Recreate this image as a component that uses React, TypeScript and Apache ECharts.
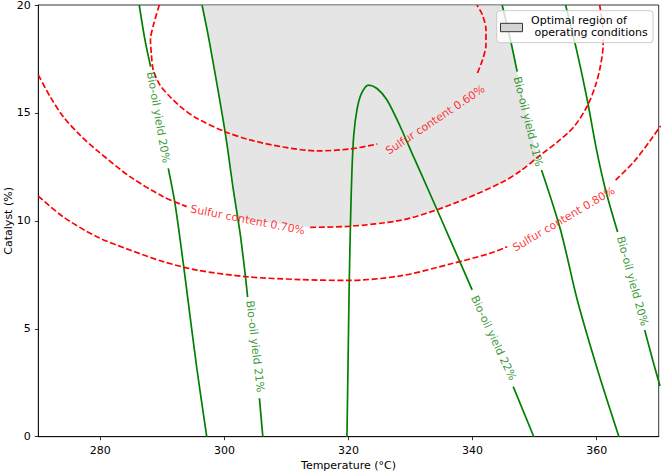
import React, { useEffect, useRef } from "react";
import * as echarts from "echarts";

type Pt = [number, number] | null;

// Axis ticks
const temperatureTicks = [280, 300, 320, 340, 360];

// Sulfur content contours [temperature °C, catalyst %]; null marks the gap left for the label
const sulfur060: Pt[] = [
  [289.5, 20.0], [288.56, 19.07], [288.08, 18.38], [288.24, 17.68], [288.53, 16.99],
  [289.61, 16.29], [291.23, 15.75], [293.16, 15.23], [295.54, 14.75], [300.1, 14.13],
  [304.14, 13.75], [309.47, 13.42], [314.96, 13.24], [320.28, 13.33], [324.64, 13.56],
  null,
  [340.78, 16.85], [341.59, 17.45], [342.16, 18.15], [342.16, 18.84], [341.59, 19.54], [340.7, 20.0],
];
const sulfur070: Pt[] = [
  [270.0, 16.76], [271.86, 15.78], [274.0, 14.83], [276.7, 13.98], [279.39, 13.28],
  [284.77, 12.05], [290.15, 11.12], [293.92, 10.66],
  null,
  [313.83, 9.7], [320.28, 9.75], [328.35, 10.02], [333.73, 10.46], [339.17, 11.06],
  [344.5, 11.75], [347.72, 12.31], [350.95, 13.05], [353.65, 13.65], [356.33, 14.36],
  [358.49, 15.32], [359.83, 16.29], [360.64, 17.22], [361.04, 18.15], [360.96, 19.07], [360.48, 20.0],
];
const sulfur080: Pt[] = [
  [270.0, 11.15], [274.0, 10.19], [279.39, 9.27], [284.77, 8.65], [290.15, 8.11],
  [295.54, 7.72], [303.61, 7.41], [312.21, 7.28], [319.8, 7.24], [328.35, 7.45],
  [336.42, 8.0], [342.88, 8.5], [345.58, 8.8],
  null,
  [363.06, 11.89], [366.01, 12.74], [368.71, 13.75], [370.32, 14.4],
];

// Bio-oil yield contours
const yield20Left: Pt[] = [
  [286.27, 20], [287.19, 18.38], [288.11, 17.14],
  null,
  [290.95, 12.43], [292.03, 10.81], [293.37, 8.03], [294.13, 6.33], [295.59, 3.09], [297.15, 0],
];
const yield21Left: Pt[] = [
  [296.39, 20], [297.52, 18.38], [300.1, 14.13], [301.44, 11.43], [302.53, 9.42],
  [303.33, 7.57], [303.74, 6.47],
  null,
  [305.64, 1.78], [306.19, 0],
];
const yield22: Pt[] = [
  [319.75, 0], [319.96, 4.02], [320.12, 7.12], [320.33, 10.04], [320.56, 12.36],
  [320.85, 13.98], [321.36, 15.14], [322.06, 15.88], [323.24, 16.29], [324.59, 16.13],
  [326.21, 15.6], [328.35, 14.36], [330.5, 12.96], [332.87, 11.43], [336.42, 9.11], [339.93, 6.8],
  null,
  [346.55, 2.32], [349.87, 0],
];
const yield21Right: Pt[] = [
  [344.77, 20], [346.11, 18.38], [347.19, 16.91],
  null,
  [351.11, 12.36], [354.18, 9.58], [356.88, 6.33], [360.15, 3.09], [363.59, 0],
];
const yield20Right: Pt[] = [
  [354.99, 20], [356.76, 17.92], [358.49, 15.6], [359.99, 13.28], [361.44, 11.43], [363.38, 9.48],
  null,
  [367.74, 4.94], [369.03, 3.55], [370.21, 2.35],
];

// Inline contour labels: text and anchor [temperature, catalyst]
const sulfurLabels: { text: string; at: [number, number] }[] = [
  { text: "Sulfur content 0.60%", at: [334.0, 14.67] },
  { text: "Sulfur content 0.70%", at: [303.74, 10.04] },
  { text: "Sulfur content 0.80%", at: [354.71, 10.08] },
];
const yieldLabels: { text: string; at: [number, number] }[] = [
  { text: "Bio-oil yield 20%", at: [289.34, 14.79] },
  { text: "Bio-oil yield 21%", at: [304.95, 4.18] },
  { text: "Bio-oil yield 22%", at: [343.37, 4.57] },
  { text: "Bio-oil yield 21%", at: [348.93, 14.6] },
  { text: "Bio-oil yield 20%", at: [365.75, 7.21] },
];

const legendText = "Optimal region of\n\u00a0operating conditions";

// ---- styles ----
const FONT = "DejaVu Sans";
const GREEN = "#008000";
const RED = "#ff0000";
const sulfurAngles = [33.5, -11, 30.5];
const yieldAngles = [-80, -83.4, -65, -76, -74.6];

function segments(line: Pt[]): [number, number][][] {
  const out: [number, number][][] = [[]];
  for (const p of line) {
    if (p === null) out.push([]);
    else out[out.length - 1].push(p);
  }
  return out.filter((s) => s.length > 1);
}

// whole contour path, with the label anchor standing in for the gap
function fullPath(line: Pt[], anchor: [number, number]): [number, number][] {
  return line.map((p) => (p === null ? anchor : p)) as [number, number][];
}

function crossing(a: [number, number][], b: [number, number][]) {
  for (let i = 0; i < a.length - 1; i++) {
    for (let j = 0; j < b.length - 1; j++) {
      const [x1, y1] = a[i];
      const [x2, y2] = a[i + 1];
      const [x3, y3] = b[j];
      const [x4, y4] = b[j + 1];
      const d = (x2 - x1) * (y4 - y3) - (y2 - y1) * (x4 - x3);
      if (!d) continue;
      const t = ((x3 - x1) * (y4 - y3) - (y3 - y1) * (x4 - x3)) / d;
      const u = ((x3 - x1) * (y2 - y1) - (y3 - y1) * (x2 - x1)) / d;
      if (t >= 0 && t <= 1 && u >= 0 && u <= 1) {
        return { i, j, p: [x1 + t * (x2 - x1), y1 + t * (y2 - y1)] as [number, number] };
      }
    }
  }
  return null;
}

// Optimal region: right of the left 21% yield line, above the 0.70% sulfur line,
// left of the right 21% yield line
function optimalRegion(): [number, number][] {
  const L = fullPath(yield21Left, yieldLabels[1].at);
  const B = fullPath(sulfur070, sulfurLabels[1].at);
  const R = fullPath(yield21Right, yieldLabels[3].at);
  const k1 = crossing(L, B);
  const k2 = crossing(R, B);
  if (!k1 || !k2) return [];
  return [
    ...L.slice(0, k1.i + 1),
    k1.p,
    ...B.slice(k1.j + 1, k2.j + 1),
    k2.p,
    ...R.slice(0, k2.i + 1).reverse(),
  ];
}

function lineSeries(line: Pt[], color: string, dashed: boolean) {
  return segments(line).map((seg) => ({
    type: "line",
    data: seg,
    symbol: "none",
    showSymbol: false,
    smooth: 0.3,
    silent: true,
    clip: true,
    z: dashed ? 4 : 3,
    lineStyle: { color, width: 1.7, type: dashed ? [6, 2.6] : "solid", cap: "butt" },
  }));
}

function labelSeries(labels: { text: string; at: [number, number] }[], angles: number[], color: string) {
  return {
    type: "scatter",
    silent: true,
    z: 6,
    symbol: "circle",
    symbolSize: 1,
    itemStyle: { color: "rgba(0,0,0,0)" },
    data: labels.map((l, k) => ({
      value: l.at,
      label: {
        show: true,
        position: "inside",
        formatter: l.text,
        rotate: angles[k],
        color,
        fontSize: 11,
        fontFamily: FONT,
      },
    })),
  };
}

export default function App() {
  const ref = useRef<HTMLDivElement>(null);

  useEffect(() => {
    if (!ref.current) return;
    const chart = echarts.init(ref.current, undefined, { renderer: "svg" });
    const region = optimalRegion();

    const axisLineStyle = { color: "#000", width: 0.8 };
    const option = {
      animation: false,
      backgroundColor: "#ffffff",
      textStyle: { fontFamily: FONT },
      grid: {
        left: 38.3,
        right: 2.3,
        top: 5,
        bottom: 35.3,
        containLabel: false,
        outerBoundsMode: "none",
        show: true,
        borderColor: "#000",
        borderWidth: 0.8,
        backgroundColor: "rgba(0,0,0,0)",
      },
      xAxis: {
        type: "value",
        min: 270,
        max: 370,
        name: "Temperature (°C)",
        nameLocation: "middle",
        nameGap: 23,
        nameMoveOverlap: false,
        nameTextStyle: { fontSize: 11, color: "#000", fontFamily: FONT },
        axisLine: { show: true, onZero: false, lineStyle: axisLineStyle },
        axisTick: { show: true, length: 3.5, customValues: temperatureTicks, lineStyle: axisLineStyle },
        axisLabel: { customValues: temperatureTicks, fontSize: 11, color: "#000", margin: 8.5, fontFamily: FONT },
        splitLine: { show: false },
      },
      yAxis: {
        type: "value",
        min: 0,
        max: 20,
        interval: 5,
        name: "Catalyst (%)",
        nameLocation: "middle",
        nameGap: 24,
        nameMoveOverlap: false,
        nameTextStyle: { fontSize: 11, color: "#000", fontFamily: FONT },
        axisLine: { show: true, onZero: false, lineStyle: axisLineStyle },
        axisTick: { show: true, length: 3.5, lineStyle: axisLineStyle },
        axisLabel: { fontSize: 11, color: "#000", margin: 7.5, fontFamily: FONT },
        splitLine: { show: false },
      },
      series: [
        {
          type: "custom",
          silent: true,
          clip: true,
          z: 1,
          data: [region[0]],
          renderItem: (_params: any, api: any) => ({
            type: "polygon",
            shape: { points: region.map((p) => api.coord(p)) },
            style: { fill: "rgba(211,211,211,0.6)", stroke: "none" },
          }),
        },
        ...lineSeries(yield20Left, GREEN, false),
        ...lineSeries(yield21Left, GREEN, false),
        ...lineSeries(yield22, GREEN, false),
        ...lineSeries(yield21Right, GREEN, false),
        ...lineSeries(yield20Right, GREEN, false),
        ...lineSeries(sulfur060, RED, true),
        ...lineSeries(sulfur070, RED, true),
        ...lineSeries(sulfur080, RED, true),
        labelSeries(sulfurLabels, sulfurAngles, RED),
        labelSeries(yieldLabels, yieldAngles, GREEN),
      ],
      graphic: [
        {
          type: "rect",
          z: 100,
          silent: true,
          shape: { x: 496.7, y: 10.7, width: 156.3, height: 32, r: 3 },
          style: { fill: "rgba(255,255,255,0.8)", stroke: "#cccccc", lineWidth: 1 },
        },
        {
          type: "rect",
          z: 101,
          silent: true,
          shape: { x: 500.5, y: 23.3, width: 22, height: 8.4 },
          style: { fill: "#d3d3d3", stroke: "#333333", lineWidth: 1 },
        },
        {
          type: "text",
          z: 101,
          silent: true,
          x: 531,
          y: 26.3,
          style: {
            text: legendText,
            fontSize: 11,
            fontFamily: FONT,
            fill: "#000",
            lineHeight: 12.5,
            align: "left",
            verticalAlign: "middle",
          },
        },
      ],
    };

    chart.setOption(option as any);
    return () => chart.dispose();
  }, []);

  return (
    <div
      ref={ref}
      style={{ position: "fixed", left: 0, top: 0, width: 661, height: 472, background: "#fff" }}
    />
  );
}
